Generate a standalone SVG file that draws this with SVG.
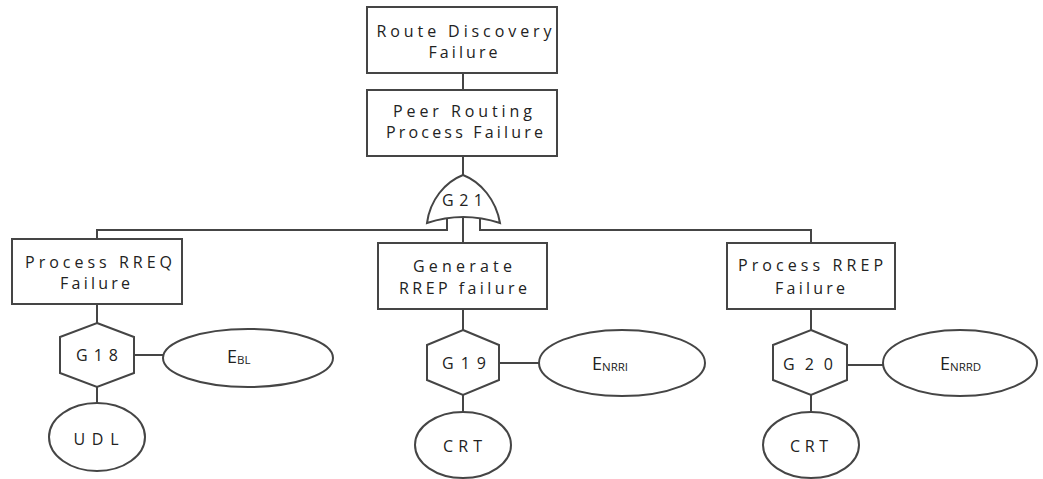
<svg xmlns="http://www.w3.org/2000/svg" width="1043" height="479" viewBox="0 0 1043 479">
<style>
.s{fill:#fff;stroke:#454545;stroke-width:2}
.c{fill:none;stroke:#454545;stroke-width:2}
.t{font-family:"Open Sans","Liberation Sans",sans-serif;font-size:16px;fill:#222;text-anchor:middle}
.e{font-family:"Open Sans","Liberation Sans",sans-serif;font-size:18px;fill:#222}
.sub{font-size:11.5px}
</style>
<rect width="1043" height="479" fill="#fff"/>
<g id="connectors">
<path class="c" d="M463,73V90"/>
<path class="c" d="M463,156V176"/>
<path class="c" d="M447,219V230H97V239"/>
<path class="c" d="M480,219V230H811V243"/>
<path class="c" d="M463,217V243"/>
<path class="c" d="M97,304V323M134,355H163M97,387V403"/>
<path class="c" d="M463,309V330M499,363H539M463,395V412"/>
<path class="c" d="M811,309V330M847,365H883M811,395V412"/>
</g>
<g id="n_route">
<rect class="s" x="367" y="7" width="190" height="66"/>
<text class="t" x="464" y="37" textLength="175" lengthAdjust="spacing">Route Discovery</text>
<text class="t" x="463" y="58" textLength="69" lengthAdjust="spacing">Failure</text>
</g>
<g id="n_peer">
<rect class="s" x="367" y="90" width="190" height="66"/>
<text class="t" x="462.5" y="117" textLength="139" lengthAdjust="spacing">Peer Routing</text>
<text class="t" x="464.5" y="138" textLength="157" lengthAdjust="spacing">Process Failure</text>
</g>
<g id="g21">
<path class="s" d="M427,223C430,200 445,182 463,175C481,182 496,200 500,223Q463,211 427,223Z"/>
<text class="t" x="462.5" y="206" textLength="41" lengthAdjust="spacing">G21</text>
</g>
<g id="n_rreq">
<rect class="s" x="12" y="239" width="170" height="65"/>
<text class="t" x="98.5" y="268" textLength="147" lengthAdjust="spacing">Process RREQ</text>
<text class="t" x="95" y="289" textLength="70" lengthAdjust="spacing">Failure</text>
</g>
<g id="n_gen">
<rect class="s" x="378" y="243" width="169" height="66"/>
<text class="t" x="462.5" y="272" textLength="99" lengthAdjust="spacing">Generate</text>
<text class="t" x="463" y="294" textLength="128" lengthAdjust="spacing">RREP failure</text>
</g>
<g id="n_rrep">
<rect class="s" x="727" y="243" width="168" height="66"/>
<text class="t" x="810.5" y="271" textLength="145" lengthAdjust="spacing">Process RREP</text>
<text class="t" x="810" y="294" textLength="70" lengthAdjust="spacing">Failure</text>
</g>
<g id="g18">
<polygon class="s" points="97,323 134,337 134,373 97,387 60,373 60,337"/>
<text class="t" x="97" y="361" textLength="42" lengthAdjust="spacing">G18</text>
</g>
<g id="g19">
<polygon class="s" points="463,330 499,345 499,380 463,395 427,380 427,345"/>
<text class="t" x="464" y="369" textLength="44" lengthAdjust="spacing">G19</text>
</g>
<g id="g20">
<polygon class="s" points="811,330 847,345 847,380 811,395 773,380 773,345"/>
<text class="t" x="808" y="370" textLength="50" lengthAdjust="spacing">G20</text>
</g>
<g id="e_bl">
<ellipse class="s" cx="248" cy="358" rx="85" ry="29"/>
<text class="e" x="227" y="363">E<tspan class="sub" dy="1">BL</tspan></text>
</g>
<g id="e_nrri">
<ellipse class="s" cx="622" cy="363" rx="83" ry="33"/>
<text class="e" x="592" y="370">E<tspan class="sub" dy="1">NRRI</tspan></text>
</g>
<g id="e_nrrd">
<ellipse class="s" cx="960" cy="363" rx="77" ry="33"/>
<text class="e" x="940" y="370">E<tspan class="sub" dy="1">NRRD</tspan></text>
</g>
<g id="udl">
<ellipse class="s" cx="97" cy="437" rx="48" ry="34"/>
<text class="t" x="96" y="445" textLength="45" lengthAdjust="spacing">UDL</text>
</g>
<g id="crt1">
<ellipse class="s" cx="463" cy="445" rx="48" ry="33"/>
<text class="t" x="462.5" y="452" textLength="39" lengthAdjust="spacing">CRT</text>
</g>
<g id="crt2">
<ellipse class="s" cx="811" cy="445" rx="48" ry="33"/>
<text class="t" x="809" y="452" textLength="38" lengthAdjust="spacing">CRT</text>
</g>
</svg>
